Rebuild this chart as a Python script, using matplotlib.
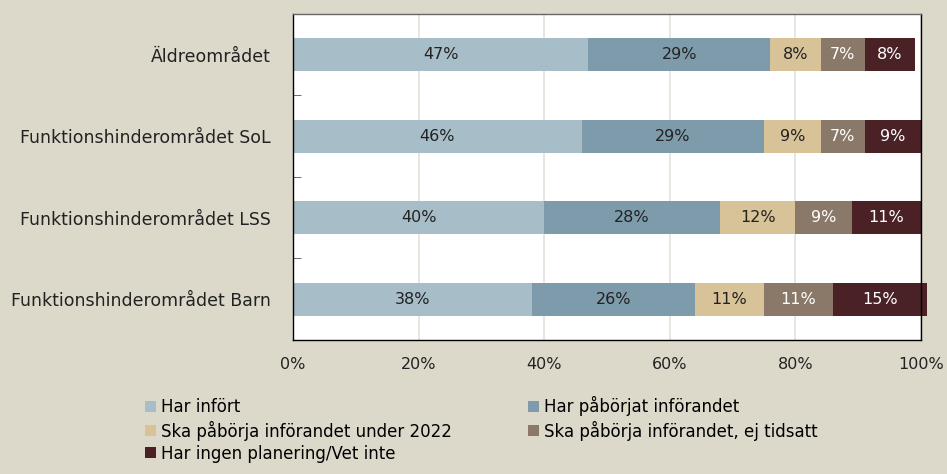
import numpy as np
import matplotlib

matplotlib.use("Agg")
import matplotlib.pyplot as plt

categories = [
    "Äldreområdet",
    "Funktionshinderområdet SoL",
    "Funktionshinderområdet LSS",
    "Funktionshinderområdet Barn",
]
series_names = [
    "Har infört",
    "Har påbörjat införandet",
    "Ska påbörja införandet under 2022",
    "Ska påbörja införandet, ej tidsatt",
    "Har ingen planering/Vet inte",
]
har_infort = [47, 46, 40, 38]
har_paborjat = [29, 29, 28, 26]
ska_2022 = [8, 9, 12, 11]
ska_ej_tidsatt = [7, 7, 9, 11]
ingen_planering = [8, 9, 11, 15]

colors = ["#A7BDC8", "#7E9BAB", "#D8C398", "#8A7868", "#4A2226"]
label_colors = ["#222222", "#222222", "#222222", "white", "white"]
bg = "#DCD9CB"

plt.rcParams["font.family"] = ["DejaVu Sans"]

fig = plt.figure(figsize=(9.47, 4.74), dpi=100)
fig.patch.set_facecolor(bg)
ax = fig.add_axes([0.3094, 0.2827, 0.6632, 0.6878])
ax.set_facecolor("white")

series = [har_infort, har_paborjat, ska_2022, ska_ej_tidsatt, ingen_planering]
y = np.arange(len(categories))
left = np.zeros(len(categories))
handles = []
for vals, name, col, tcol in zip(series, series_names, colors, label_colors):
    vals = np.array(vals, float)
    bars = ax.barh(y, vals, left=left, height=0.41, color=col, label=name,
                   zorder=2, clip_on=False)
    handles.append(bars)
    for yi, l, v in zip(y, left, vals):
        ax.text(l + v / 2, yi, f"{int(v)}%", ha="center", va="center",
                color=tcol, fontsize=11.5, zorder=3)
    left += vals

ax.set_xlim(0, 100)
ax.set_ylim(len(categories) - 0.5, -0.5)
ax.set_xticks(np.arange(0, 101, 20))
ax.set_xticklabels([f"{v}%" for v in range(0, 101, 20)], fontsize=11.5, color="#222222")
ax.tick_params(axis="x", length=0, pad=12)
ax.set_yticks(y)
ax.set_yticklabels(categories, fontsize=12.5, color="#222222")
ax.tick_params(axis="y", which="major", length=0, pad=16)
ax.set_yticks(np.arange(0.5, len(categories) - 1, 1), minor=True)
ax.tick_params(axis="y", which="minor", length=6, direction="in", color="#555555")
ax.grid(axis="x", color="#E4E1D8", linewidth=1.2, zorder=0)
for s in ax.spines.values():
    s.set_color("black")
    s.set_linewidth(1)
ax.spines["top"].set_color("#666666")

order = [0, 2, 4, 1, 3]
leg = fig.legend([handles[i] for i in order], [series_names[i] for i in order],
                 ncol=2, loc="upper left", bbox_to_anchor=(0.153, 0.164),
                 frameon=False, fontsize=12, handlelength=0.65, handleheight=0.65,
                 handletextpad=0.3, columnspacing=4.6, labelspacing=0.25,
                 borderaxespad=0, borderpad=0)

fig.savefig("out.png", dpi=100, facecolor=bg)
